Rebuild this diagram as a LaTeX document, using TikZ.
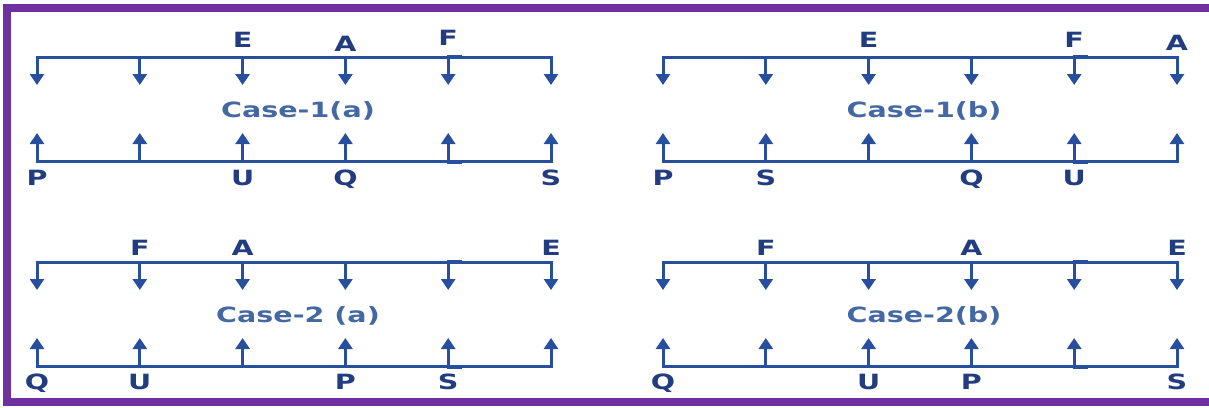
\documentclass[tikz,border=0pt]{standalone}
\usepackage{fontspec}
\newfontfamily\lblfont{DejaVu Sans}[FakeStretch=1.36]
\usetikzlibrary{arrows.meta,positioning,calc}
\definecolor{lineblue}{RGB}{40,78,158}
\definecolor{textblue}{RGB}{34,60,128}
\definecolor{caseblue}{RGB}{68,104,162}
\definecolor{framepurple}{RGB}{112,48,160}

\begin{document}
\begin{tikzpicture}[
  x=1pt, y=-1pt,
  rail/.style={line width=3pt, color=lineblue, line cap=rect},
  arr/.style={-{Triangle[length=11pt,width=14pt]}, line width=3pt, color=lineblue},
  stub/.style={line width=2.2pt, color=lineblue},
  lbl/.style={inner sep=0pt, font=\lblfont\bfseries\fontsize{21}{23}\selectfont, text=textblue},
  case/.style={inner sep=0pt, font=\lblfont\bfseries\fontsize{21}{23}\selectfont, text=caseblue},
  frame/.style={line width=8pt, draw=framepurple},
  ]
\useasboundingbox (0,0) rectangle (1209,407);
% one case: name, left x, y of upper rail, caption
\newcommand{\caseblock}[4]{%
  \foreach \i in {0,...,5} {
    \coordinate (#1-t\i) at (#2+\i*102.8, #3);
    \coordinate (#1-d\i) at (#2+\i*102.8, #3+28);
    \coordinate (#1-b\i) at (#2+\i*102.8, #3+104.5);
    \coordinate (#1-u\i) at (#2+\i*102.8, #3+76);
    \draw[arr] (#1-t\i) -- (#1-d\i);
    \draw[arr] (#1-b\i) -- (#1-u\i);
  }
  \draw[rail] (#1-t0) -- (#1-t5);
  \draw[rail] (#1-b0) -- (#1-b5);
  \draw[stub] ($(#1-t4)+(-1,-1)$) -- ++(15,0);
  \draw[stub] ($(#1-b4)+(-1,1)$) -- ++(15,0);
  \node[case] (#1-cap) at ($(#1-t2)!0.5!(#1-t3)+(4,53.5)$) {#4};}
% frame
\draw[frame] (1209,8) -- (7,8) -- (7,401.5) -- (1209,401.5);
\caseblock{ia}{37}{57}{Case-1(a)}
\caseblock{ib}{663}{57}{Case-1(b)}
\caseblock{iia}{37}{262}{Case-2 (a)}
\caseblock{iib}{663}{262}{Case-2(b)}
% case 1(a)
\node[lbl, above=9pt of ia-t2] (ia-E) {E};
\node[lbl, above=5pt of ia-t3] (ia-A) {A};
\node[lbl, above=11pt of ia-t4] (ia-F) {F};
\node[lbl, below=8pt of ia-b0] (ia-P) {P};
\node[lbl, below=8pt of ia-b2] (ia-U) {U};
\node[lbl, below=8pt of ia-b3] (ia-Q) {Q};
\node[lbl, below=8pt of ia-b5] (ia-S) {S};
% case 1(b)
\node[lbl, above=9pt of ib-t2] (ib-E) {E};
\node[lbl, above=9pt of ib-t4] (ib-F) {F};
\node[lbl, above=6pt of ib-t5] (ib-A) {A};
\node[lbl, below=8pt of ib-b0] (ib-P) {P};
\node[lbl, below=8pt of ib-b1] (ib-S) {S};
\node[lbl, below=8pt of ib-b3] (ib-Q) {Q};
\node[lbl, below=8pt of ib-b4] (ib-U) {U};
% case 2(a)
\node[lbl, above=6pt of iia-t1] (iia-F) {F};
\node[lbl, above=6pt of iia-t2] (iia-A) {A};
\node[lbl, above=6pt of iia-t5] (iia-E) {E};
\node[lbl, below=7pt of iia-b0] (iia-Q) {Q};
\node[lbl, below=7pt of iia-b1] (iia-U) {U};
\node[lbl, below=7pt of iia-b3] (iia-P) {P};
\node[lbl, below=7pt of iia-b4] (iia-S) {S};
% case 2(b)
\node[lbl, above=6pt of iib-t1] (iib-F) {F};
\node[lbl, above=6pt of iib-t3] (iib-A) {A};
\node[lbl, above=6pt of iib-t5] (iib-E) {E};
\node[lbl, below=7pt of iib-b0] (iib-Q) {Q};
\node[lbl, below=7pt of iib-b2] (iib-U) {U};
\node[lbl, below=7pt of iib-b3] (iib-P) {P};
\node[lbl, below=7pt of iib-b5] (iib-S) {S};
\end{tikzpicture}
\end{document}
